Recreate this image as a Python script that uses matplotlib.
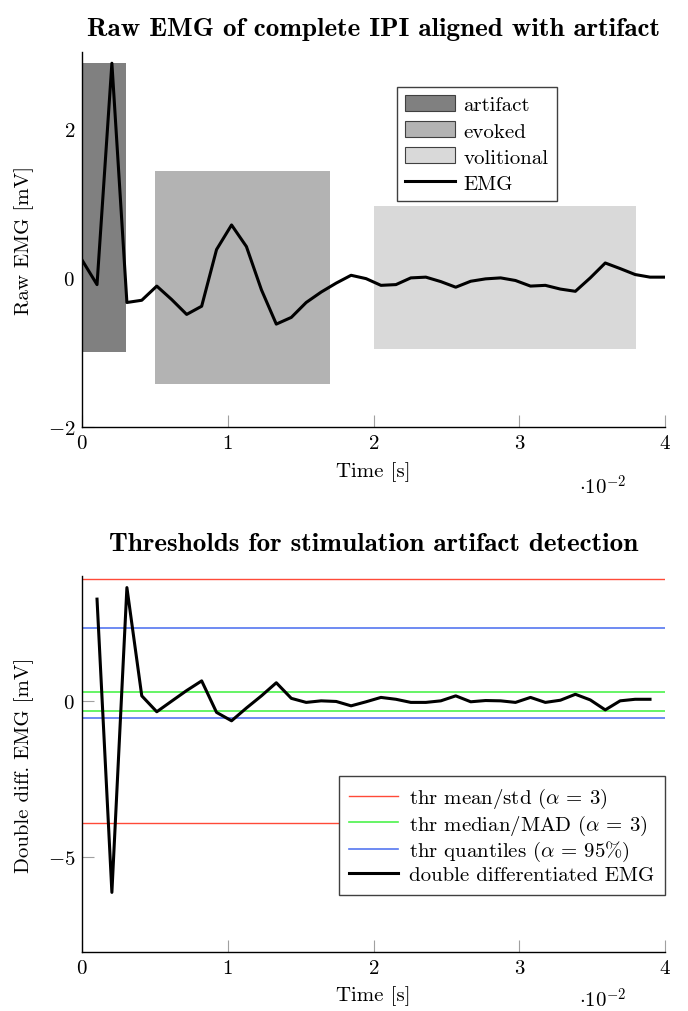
import numpy as np
import matplotlib
matplotlib.use("Agg")
import matplotlib.pyplot as plt

plt.rcParams["font.family"] = ["cmr10", "DejaVu Serif"]
plt.rcParams["mathtext.fontset"] = "cm"
plt.rcParams["axes.formatter.use_mathtext"] = True
plt.rcParams["axes.unicode_minus"] = True

# time axis in units of 1e-2 s
time = [0.0, 0.103, 0.205, 0.308, 0.41, 0.513, 0.615, 0.718, 0.821, 0.923,
        1.026, 1.128, 1.231, 1.333, 1.436, 1.538, 1.641, 1.744, 1.846, 1.949,
        2.051, 2.154, 2.256, 2.359, 2.462, 2.564, 2.667, 2.769, 2.872, 2.974,
        3.077, 3.179, 3.282, 3.385, 3.487, 3.59, 3.692, 3.795, 3.897, 4.0]

# raw EMG [mV]
emg = [0.24, -0.09, 2.88, -0.33, -0.30, -0.11, -0.29, -0.49, -0.38, 0.38,
       0.71, 0.42, -0.16, -0.62, -0.53, -0.33, -0.19, -0.07, 0.035, -0.01,
       -0.10, -0.09, 0.0, 0.01, -0.05, -0.125, -0.045, -0.013, 0.0, -0.035,
       -0.11, -0.10, -0.15, -0.18, 0.0, 0.2, 0.125, 0.045, 0.01, 0.01]

# double differentiated EMG [mV], time[1:-1]
dd_emg = [3.26, -6.14, 3.63, 0.16, -0.35, -0.01, 0.33, 0.64, -0.37, -0.64,
          -0.23, 0.16, 0.58, 0.08, -0.05, 0.0, -0.02, -0.16, -0.03, 0.11,
          0.05, -0.05, -0.05, 0.0, 0.16, -0.03, 0.01, 0.0, -0.05, 0.11,
          -0.05, 0.02, 0.21, 0.03, -0.29, 0.0, 0.05, 0.05]

# segments: name, start, end, low, high
seg_names = ["artifact", "evoked", "volitional"]
seg_start = [0.0, 0.5, 2.0]
seg_end = [0.3, 1.7, 3.8]
seg_low = [-1.0, -1.43, -0.96]
seg_high = [2.88, 1.43, 0.96]
seg_colors = ["#808080", "#b3b3b3", "#d9d9d9"]

# thresholds (upper, lower)
thr_names = [r"thr mean/std ($\alpha$ = 3)",
             r"thr median/MAD ($\alpha$ = 3)",
             r"thr quantiles ($\alpha$ = 95%)"]
thr_upper = [3.9, 0.29, 2.33]
thr_lower = [-3.9, -0.33, -0.56]
thr_colors = ["#ff4a38", "#4cf24c", "#5577f0"]
thr_lw = [1.0, 1.2, 1.2]

fs = 15

fig = plt.figure(figsize=(6.88, 10.12), dpi=100)
ax1 = fig.add_axes([0.1192, 0.5771, 0.8474, 0.3705])
ax2 = fig.add_axes([0.1192, 0.0583, 0.8474, 0.3715])


def style_axis(ax):
    for s in ["top", "right"]:
        ax.spines[s].set_visible(False)
    for s in ["left", "bottom"]:
        ax.spines[s].set_linewidth(1.0)
    ax.tick_params(direction="in", length=8.5, width=0.8, color="#a0a0a0",
                   labelsize=fs)
    ax.tick_params(axis="x", pad=5)
    ax.tick_params(axis="y", pad=5)
    ax.set_xlim(0, 4)
    ax.set_xticks([0, 1, 2, 3, 4])


def place_labels(ax, xl_y):
    ax.xaxis.set_label_coords(0.5, xl_y)
    ax.xaxis.label.set_va("center")
    ax.yaxis.set_label_coords(-0.100, 0.5)
    ax.yaxis.label.set_va("center")


# ---- top plot
handles = []
for name, x0, x1, lo, hi, c in zip(seg_names, seg_start, seg_end, seg_low, seg_high, seg_colors):
    h = ax1.fill_between([x0, x1], lo, hi, color=c, lw=0, label=name)
    handles.append(h)
ln, = ax1.plot(time, emg, color="black", lw=2.2, label="EMG")
handles.append(ln)
style_axis(ax1)
ax1.set_axisbelow(True)
ax1.set_ylim(-2, 3.03)
ax1.set_yticks([-2, 0, 2])
ax1.set_xlabel("Time [s]", fontsize=fs)
ax1.set_ylabel("Raw EMG [mV]", fontsize=fs)
place_labels(ax1, -0.117)
fig.text(0.5429, 0.9713, "Raw EMG of complete IPI aligned with artifact",
         fontsize=19.5, fontfamily="cmb10", ha="center", va="center")
leg1 = ax1.legend(handles=handles, loc="upper left", bbox_to_anchor=(0.540, 0.907),
                  borderaxespad=0, fontsize=fs, fancybox=False, framealpha=1,
                  edgecolor="#404040", handlelength=2.4, handleheight=0.8,
                  handletextpad=0.4, labelspacing=0.33, borderpad=0.4)
leg1.get_frame().set_linewidth(1.0)
for p in leg1.get_patches():
    p.set_edgecolor("#404040")
    p.set_linewidth(0.8)
fig.text(0.876, 0.5188, r"$\cdot 10^{-2}$", fontsize=fs, ha="center", va="center")

# ---- bottom plot
for name, up, lo, c, lw in zip(thr_names, thr_upper, thr_lower, thr_colors, thr_lw):
    ax2.plot([0, 4], [up, up], color=c, lw=lw, label=name)
    ax2.plot([0, 4], [lo, lo], color=c, lw=lw)
ax2.plot(time[1:-1], dd_emg, color="black", lw=2.2, label="double differentiated EMG")
style_axis(ax2)
ax2.set_ylim(-8.05, 4.0)
ax2.set_yticks([0, -5])
ax2.set_xlabel("Time [s]", fontsize=fs)
ax2.set_ylabel("Double diff. EMG [mV]", fontsize=fs)
place_labels(ax2, -0.114)
fig.text(0.5429, 0.4624, "Thresholds for stimulation artifact detection",
         fontsize=19.5, fontfamily="cmb10", ha="center", va="center")
leg2 = ax2.legend(loc="lower right", bbox_to_anchor=(1.0, 0.152),
                  borderaxespad=0, fontsize=fs, fancybox=False, framealpha=1,
                  edgecolor="#404040", handlelength=2.35,
                  handletextpad=0.55, labelspacing=0.12, borderpad=0.5)
leg2.get_frame().set_linewidth(1.0)
fig.text(0.876, 0.0118, r"$\cdot 10^{-2}$", fontsize=fs, ha="center", va="center")

fig.savefig("out.png", dpi=100)
